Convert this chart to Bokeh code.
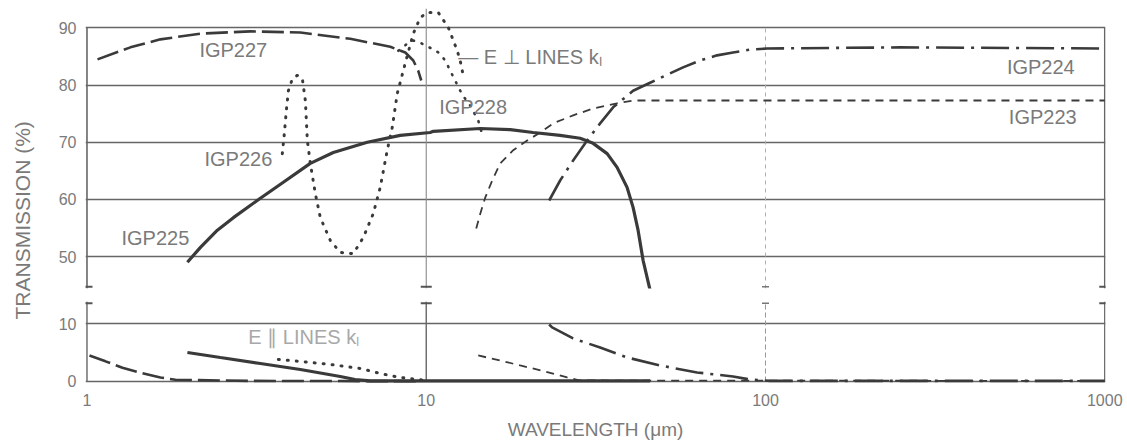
import numpy as np
from bokeh.plotting import figure
from bokeh.layouts import row, column
from bokeh.models import Range1d, FixedTicker, PrintfTickFormatter
from bokeh.embed import file_html
from bokeh.resources import INLINE
from bokeh.core.properties import value

# ---------------- data (wavelength in micrometres, transmission in %) ----------------
# upper panel (E perpendicular to lines)
igp227_wl = [1.074, 1.343, 1.646, 2.160, 3.031, 4.255, 5.971, 7.834, 8.674, 9.157, 9.472, 9.667]
igp227_t = [84.5, 86.6, 88.0, 89.0, 89.4, 89.2, 88.1, 86.7, 85.7, 84.3, 82.5, 80.8]

igp226_wl = [3.765, 3.817, 3.869, 3.923, 4.031, 4.169, 4.313, 4.402, 4.462, 4.553, 4.711, 4.873,
             5.216, 5.58, 6.095, 6.52, 6.98, 7.318, 7.675, 7.94, 8.214, 8.555, 9.157, 9.601,
             10.07, 10.85, 11.61, 11.93, 12.34, 12.59, 12.85]
igp226_t = [68.0, 71.5, 75.5, 79.0, 81.1, 81.7, 81.1, 77.3, 70.3, 66.3, 61.0, 56.8,
            52.8, 50.7, 50.5, 53.3, 57.5, 62.1, 68.6, 72.6, 78.5, 82.5, 89.0, 91.8,
            92.7, 92.7, 90.1, 88.3, 86.0, 84.3, 81.7]

igp228_wl = [8.271, 8.73, 9.157, 9.601, 10.14, 10.85, 11.38, 11.77, 12.26, 12.77, 13.48, 14.23, 14.72]
igp228_t = [86.0, 87.1, 87.8, 87.4, 86.7, 85.7, 84.3, 82.5, 80.4, 78.3, 76.4, 73.8, 70.8]

igp225_wl = [1.977, 2.160, 2.423, 2.701, 3.244, 3.791, 4.553, 5.322, 6.703, 8.382, 10.27, 10.49,
             14.43, 17.68, 20.66, 24.81, 28.42, 31.04, 34.14, 36.52, 39.08, 40.71, 42.11,
             43.58, 45.69]
igp225_t = [49.0, 51.6, 54.6, 56.8, 60.2, 63.0, 66.3, 68.2, 70.0, 71.2, 71.7, 71.9,
            72.4, 72.2, 71.7, 71.2, 70.7, 69.8, 68.0, 65.6, 62.1, 58.6, 54.6,
            49.3, 44.1]

igp223_wl = [14.04, 14.43, 14.92, 15.65, 16.52, 18.05, 19.84, 21.67, 23.67, 27.1, 31.04,
             36.52, 40.71, 64.14, 1000]
igp223_t = [54.9, 57.5, 60.3, 63.3, 66.3, 68.6, 70.3, 71.7, 73.3, 74.7, 75.9,
            76.8, 77.3, 77.3, 77.3]

igp224_wl = [23.03, 24.81, 27.1, 29.8, 32.55, 35.55, 40.71, 45.69, 51.27, 57.15, 64.14,
             71.97, 80.24, 90.0, 101.0, 249.0, 1000]
igp224_t = [59.8, 63.3, 66.8, 70.3, 73.3, 76.1, 79.0, 80.4, 81.8, 83.1, 84.3,
            85.2, 85.7, 86.2, 86.4, 86.6, 86.4]

# lower panel (E parallel to lines)
igp227b_wl = [1.017, 1.134, 1.272, 1.438, 1.646, 1.823, 3.03, 9.667]
igp227b_t = [4.5, 3.5, 2.4, 1.5, 0.7, 0.3, 0.1, 0.05]

igp226b_wl = [3.665, 4.255, 5.216, 6.393, 7.318, 8.382, 10.07]
igp226b_t = [3.83, 3.48, 2.96, 2.26, 1.39, 0.70, 0.17]

igp225b_wl = [1.977, 2.473, 3.244, 4.255, 5.58, 6.17, 6.83, 45.69]
igp225b_t = [5.04, 4.17, 3.13, 2.09, 0.87, 0.35, 0.1, 0.1]

igp223b_wl = [14.23, 16.52, 18.92, 22.41, 26.02, 28.42, 1000]
igp223b_t = [4.52, 3.65, 2.78, 1.74, 0.70, 0.17, 0.1]

igp224b_wl = [23.03, 23.5, 27.1, 32.55, 39.08, 48.9, 62.85, 80.24, 90.0, 103.1, 1000]
igp224b_t = [9.91, 9.39, 7.48, 5.91, 4.17, 2.78, 1.57, 0.87, 0.35, 0.1, 0.1]

# curve labels: (text, wavelength, transmission)
top_labels = ["IGP227", "IGP226", "IGP225", "IGP228", "IGP224", "IGP223"]
top_label_wl = [2.70, 2.795, 1.591, 13.75, 647.8, 656.6]
top_label_t = [86.2, 67.0, 53.2, 76.1, 83.2, 74.5]

# ticks
x_ticks = [1, 10, 100, 1000]
x_tick_labels = ["1", "10", "100", "1000"]
y_ticks_top = [50, 60, 70, 80, 90]
y_ticks_bottom = [0, 10]

# ---------------- styling ----------------
FONT = "Liberation Sans"
LINE = "#3a3a3a"
GRID = "#666666"
TXT = "#7a7a7a"
TOP_Y = (44.4, 93.4)
BOT_Y = (-0.35, 13.9)
xr = Range1d(0.99, 1005)

def style_axis_y(p, ticks):
    p.yaxis.ticker = FixedTicker(ticks=ticks)
    p.yaxis.axis_line_color = None
    p.yaxis.major_tick_line_color = None
    p.yaxis.minor_tick_line_color = None
    p.yaxis.major_tick_out = 0
    p.yaxis.major_label_standoff = 9
    p.yaxis.major_label_text_font = FONT
    p.yaxis.major_label_text_font_size = "16px"
    p.yaxis.major_label_text_color = TXT
    p.xgrid.visible = False
    p.ygrid.ticker = FixedTicker(ticks=ticks)
    p.ygrid.grid_line_color = GRID
    p.ygrid.grid_line_width = 1.5

# ---------------- upper panel ----------------
top = figure(width=1083, height=294, x_axis_type="log", x_range=xr,
             y_range=Range1d(*TOP_Y), output_backend="svg", toolbar_location=None,
             x_axis_location=None, min_border_left=43, min_border_right=20,
             min_border_top=8, min_border_bottom=6, outline_line_color=None,
             background_fill_color="white", border_fill_color="white")
style_axis_y(top, y_ticks_top)

# frame verticals
top.segment(x0=[1, 1000], y0=[TOP_Y[0]] * 2, x1=[1, 1000], y1=[90] * 2, line_color=GRID, line_width=1.6)
top.segment(x0=[10], y0=[TOP_Y[0]], x1=[10], y1=[TOP_Y[1]], line_color="#8a8a8a", line_width=1.1)
top.segment(x0=[100], y0=[TOP_Y[0]], x1=[100], y1=[90], line_color="#b0b0b0", line_width=1, line_dash="4 4")
# break marks
top.scatter(x=[1, 10, 1000], y=[TOP_Y[0] + 0.3] * 3, marker="dash", size=11, line_width=2, line_color="#555555")
top.scatter(x=[100], y=[TOP_Y[0] + 0.3], marker="dash", size=7, line_width=1.5, line_color="#777777")

top.line(igp227_wl, igp227_t, line_color=LINE, line_width=2.6, line_dash="22 6")
top.line(igp226_wl, igp226_t, line_color=LINE, line_width=3, line_dash="1 8", line_cap="round")
top.line(igp228_wl, igp228_t, line_color=LINE, line_width=2.6, line_dash="1 8", line_cap="round")
top.line(igp225_wl, igp225_t, line_color=LINE, line_width=3.2)
top.line(igp223_wl, igp223_t, line_color=LINE, line_width=1.8, line_dash="8 6")
top.line(igp224_wl, igp224_t, line_color=LINE, line_width=2.6, line_dash="28 7 3 7")

top.text(x=top_label_wl, y=top_label_t, text=top_labels, text_font=value(FONT),
         text_font_size=value("20px"), text_color=TXT, text_align="center", text_baseline="middle")
top.text(x=[12.43], y=[85.0], text=["— E ⊥ LINES kₗ"], text_font=value(FONT),
         text_font_size=value("20px"), text_color=TXT, text_align="left", text_baseline="middle")

# ---------------- lower panel ----------------
bot = figure(width=1083, height=151, x_axis_type="log", x_range=xr,
             y_range=Range1d(*BOT_Y), output_backend="svg", toolbar_location=None,
             min_border_left=43, min_border_right=20, min_border_top=7, min_border_bottom=62,
             outline_line_color=None, background_fill_color="white", border_fill_color="white")
style_axis_y(bot, y_ticks_bottom)
bot.xaxis.ticker = FixedTicker(ticks=x_ticks)
bot.xaxis.formatter = PrintfTickFormatter(format="%d")
bot.xaxis.major_label_overrides = {float(t): s for t, s in zip(x_ticks, x_tick_labels)}
bot.xaxis.axis_line_color = None
bot.xaxis.major_tick_line_color = None
bot.xaxis.minor_tick_line_color = None
bot.xaxis.major_tick_out = 0
bot.xaxis.minor_tick_out = 0
bot.xaxis.major_label_standoff = 10
bot.xaxis.major_label_text_font = FONT
bot.xaxis.major_label_text_font_size = "16px"
bot.xaxis.major_label_text_color = TXT
bot.xaxis.axis_label = "WAVELENGTH (μm)"
bot.xaxis.axis_label_standoff = 10
bot.xaxis.axis_label_text_font = FONT
bot.xaxis.axis_label_text_font_size = "19px"
bot.xaxis.axis_label_text_font_style = "normal"
bot.xaxis.axis_label_text_color = TXT

bot.segment(x0=[1, 10, 1000], y0=[0] * 3, x1=[1, 10, 1000], y1=[BOT_Y[1]] * 3, line_color=GRID, line_width=1.4)
bot.segment(x0=[100], y0=[0], x1=[100], y1=[BOT_Y[1]], line_color="#9a9a9a", line_width=1, line_dash="5 3")
bot.scatter(x=[1, 10, 1000], y=[BOT_Y[1] - 0.3] * 3, marker="dash", size=11, line_width=2, line_color="#555555")
bot.scatter(x=[100], y=[BOT_Y[1] - 0.3], marker="dash", size=7, line_width=1.5, line_color="#777777")

bot.line(igp227b_wl, igp227b_t, line_color=LINE, line_width=2.6, line_dash="22 6")
bot.line(igp226b_wl, igp226b_t, line_color=LINE, line_width=3, line_dash="1 8", line_cap="round")
bot.line(igp225b_wl, igp225b_t, line_color=LINE, line_width=3.2)
bot.line(igp223b_wl, igp223b_t, line_color=LINE, line_width=1.8, line_dash="8 6")
bot.line(igp224b_wl, igp224b_t, line_color=LINE, line_width=2.6, line_dash="28 7 3 7")

bot.text(x=[2.99], y=[7.65], text=["E ∥  LINES kₗ"], text_font=value(FONT),
         text_font_size=value("20px"), text_color="#a8a8a8", text_align="left", text_baseline="middle")

# ---------------- y-axis title strip ----------------
lab = figure(width=42, height=445, x_range=Range1d(0, 1), y_range=Range1d(0, 1),
             output_backend="svg", toolbar_location=None, min_border=0,
             x_axis_location=None, y_axis_location=None, outline_line_color=None)
lab.grid.visible = False
lab.text(x=[0.52], y=[0.506], text=["TRANSMISSION (%)"], angle=np.pi / 2,
         text_font=value(FONT), text_font_size=value("21px"), text_color=TXT,
         text_align="center", text_baseline="middle")

layout = row(lab, column(top, bot))
open("out.html", "w").write(file_html(layout, INLINE))
